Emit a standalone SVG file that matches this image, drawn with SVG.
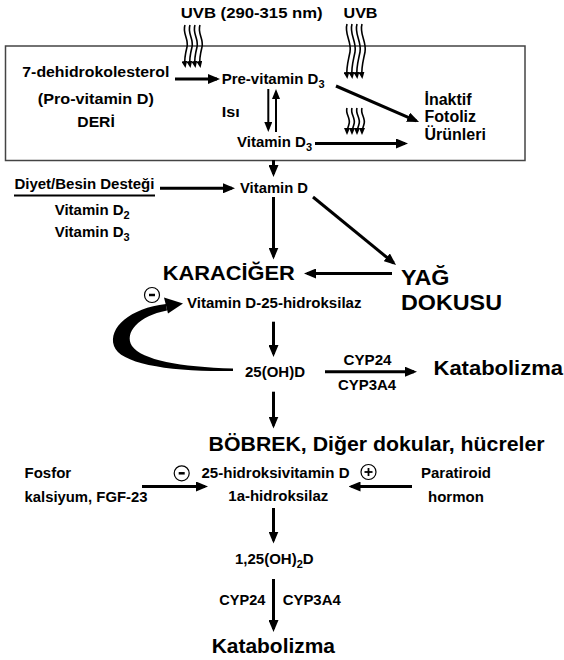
<svg xmlns="http://www.w3.org/2000/svg" xmlns:xlink="http://www.w3.org/1999/xlink" width="564" height="660" viewBox="0 0 564 660">
<style>
text{font-family:"Liberation Sans",Arial,Helvetica,sans-serif;font-weight:bold;fill:#000}
.s{font-size:15px}
.m{font-size:16px}
.l{font-size:21px}
.xl{font-size:22px}
.sub{font-size:11px}
.ar{stroke:#000;stroke-width:3;fill:none;marker-end:url(#ah)}
.eq{stroke:#000;stroke-width:2;fill:none;marker-end:url(#ahs)}
.wv{stroke:#000;stroke-width:1.6;fill:none;marker-end:url(#ahw)}
.circ{fill:#fff;stroke:#000;stroke-width:1.2}
</style>
<defs>
<marker id="ah" markerUnits="userSpaceOnUse" markerWidth="12" markerHeight="10" refX="9" refY="5" orient="auto"><path d="M0,0 L12,5 L0,10 z" fill="#000"/></marker>
<marker id="ahs" markerUnits="userSpaceOnUse" markerWidth="10" markerHeight="8" refX="7" refY="4" orient="auto"><path d="M0,0 L10,4 L0,8 z" fill="#000"/></marker>
<marker id="ahw" markerUnits="userSpaceOnUse" markerWidth="7" markerHeight="6" refX="4" refY="3" orient="auto"><path d="M0,0 L7,3 L0,6 z" fill="#000"/></marker>
<path id="w1" d="M0,0 C-3,8 4,14 2,22 C0,30 -1,34 0,40" class="wv"/>
<path id="w2" d="M0,0 C-3,10 5,18 3,28 C1,38 -1,44 0,52" class="wv"/>
<path id="w3" d="M0,0 C-2,6 4,10 2,16 C1,20 0,22 0,24" class="wv"/>
</defs>

<g id="skin-box">
<rect x="5.5" y="46" width="519.5" height="114.5" fill="#fff" stroke="#444" stroke-width="1.5"/>
</g>

<g id="uvb1">
<text class="s" x="180.7" y="17.5" textLength="142" lengthAdjust="spacingAndGlyphs">UVB (290-315 nm)</text>
<use xlink:href="#w1" x="185" y="25"/><use xlink:href="#w1" x="190" y="25"/><use xlink:href="#w1" x="195" y="25"/><use xlink:href="#w1" x="200" y="25"/>
</g>
<g id="uvb2">
<text class="s" x="343.5" y="17.5" textLength="34" lengthAdjust="spacingAndGlyphs">UVB</text>
<use xlink:href="#w2" x="347" y="24"/><use xlink:href="#w2" x="352" y="24"/><use xlink:href="#w2" x="357" y="24"/><use xlink:href="#w2" x="362" y="24"/>
</g>
<g id="uvb3">
<use xlink:href="#w3" x="347" y="108"/><use xlink:href="#w3" x="352" y="108"/><use xlink:href="#w3" x="357" y="108"/><use xlink:href="#w3" x="362" y="108"/>
</g>

<g id="dehydro">
<text class="s" x="22.3" y="77" textLength="147" lengthAdjust="spacingAndGlyphs">7-dehidrokolesterol</text>
<text class="s" x="37.8" y="103.5" textLength="116" lengthAdjust="spacingAndGlyphs">(Pro-vitamin D)</text>
<text class="s" x="77.3" y="127" textLength="37.5" lengthAdjust="spacingAndGlyphs">DERİ</text>
</g>
<g id="previtd3"><text class="s" x="221.7" y="84">Pre-vitamin D<tspan class="sub" dy="4">3</tspan></text></g>
<g id="heat"><text class="s" x="221.7" y="117" textLength="18" lengthAdjust="spacingAndGlyphs">Isı</text></g>
<g id="vitd3-skin"><text class="s" x="237" y="147">Vitamin D<tspan class="sub" dy="4">3</tspan></text></g>
<g id="inactive">
<text class="m" x="424.5" y="105">İnaktif</text>
<text class="m" x="424.5" y="121.5">Fotoliz</text>
<text class="m" x="424.5" y="139.5">Ürünleri</text>
</g>

<g id="diet">
<text class="s" x="14.4" y="188.5" textLength="140" lengthAdjust="spacingAndGlyphs">Diyet/Besin Desteği</text>
<line x1="14" y1="195.5" x2="155" y2="195.5" stroke="#000" stroke-width="2"/>
<text class="s" x="54.7" y="215">Vitamin D<tspan class="sub" dy="4">2</tspan></text>
<text class="s" x="54.7" y="237">Vitamin D<tspan class="sub" dy="4">3</tspan></text>
</g>
<g id="vitd"><text class="s" x="240" y="192.7" textLength="68" lengthAdjust="spacingAndGlyphs">Vitamin D</text></g>
<g id="liver"><text class="l" x="162.7" y="279.5" textLength="132" lengthAdjust="spacingAndGlyphs">KARACİĞER</text></g>
<g id="fat">
<text class="xl" x="401" y="285" textLength="48.5" lengthAdjust="spacingAndGlyphs">YAĞ</text>
<text class="xl" x="401" y="310" textLength="101" lengthAdjust="spacingAndGlyphs">DOKUSU</text>
</g>
<g id="hydroxylase25">
<text class="s" x="187" y="308.3" textLength="174.5" lengthAdjust="spacingAndGlyphs">Vitamin D-25-hidroksilaz</text>
<circle class="circ" cx="152" cy="295" r="7.5"/><line x1="149" y1="295" x2="155" y2="295" stroke="#000" stroke-width="2.5"/>
</g>
<g id="ohd25"><text class="s" x="245" y="377.3" textLength="60" lengthAdjust="spacingAndGlyphs">25(OH)D</text></g>
<g id="catab1"><text class="l" x="433.5" y="375" textLength="129.5" lengthAdjust="spacingAndGlyphs">Katabolizma</text></g>
<g id="kidney"><text class="l" x="208.6" y="450.5" textLength="336" lengthAdjust="spacingAndGlyphs">BÖBREK, Diğer dokular, hücreler</text></g>
<g id="phosphor">
<text class="s" x="24.5" y="478">Fosfor</text>
<text class="s" x="24.5" y="501.5" textLength="123" lengthAdjust="spacingAndGlyphs">kalsiyum, FGF-23</text>
</g>
<g id="alpha-hydroxylase">
<circle class="circ" cx="181.7" cy="473.3" r="7.5"/><line x1="178.7" y1="473.3" x2="184.7" y2="473.3" stroke="#000" stroke-width="2.5"/>
<text class="s" x="201.5" y="477.5" textLength="148" lengthAdjust="spacingAndGlyphs">25-hidroksivitamin D</text>
<circle class="circ" cx="368.5" cy="472" r="7.5"/><line x1="364.5" y1="472" x2="372.5" y2="472" stroke="#000" stroke-width="1.8"/><line x1="368.5" y1="468" x2="368.5" y2="476" stroke="#000" stroke-width="1.8"/>
<text class="s" x="228.3" y="500.7" textLength="100" lengthAdjust="spacingAndGlyphs">1a-hidroksilaz</text>
</g>
<g id="pth">
<text class="s" x="421" y="478">Paratiroid</text>
<text class="s" x="428" y="501.5">hormon</text>
</g>
<g id="ohd125"><text class="s" x="235" y="563.5">1,25(OH)<tspan class="sub" dy="4">2</tspan><tspan dy="-4">D</tspan></text></g>
<g id="catab2"><text class="l" x="211.7" y="653.3" textLength="123.3" lengthAdjust="spacingAndGlyphs">Katabolizma</text></g>

<g id="connectors">
<line class="ar" x1="175" y1="79" x2="217" y2="79"/>
<line class="eq" x1="268.3" y1="89" x2="268.3" y2="129"/>
<line class="eq" x1="276" y1="132" x2="276" y2="92"/>
<line class="ar" x1="336" y1="86" x2="416.3" y2="120.8"/>
<line class="ar" x1="315" y1="143.5" x2="405" y2="143.5"/>
<line class="ar" x1="273.5" y1="160" x2="273.5" y2="174"/>
<line class="ar" x1="160" y1="188.3" x2="232" y2="188.3"/>
<line class="ar" x1="273.5" y1="197" x2="273.5" y2="256.5"/>
<line class="ar" x1="313" y1="197" x2="393.7" y2="263"/>
<line class="ar" x1="392" y1="273.5" x2="307" y2="273.5"/>
<line class="ar" x1="273.5" y1="321.7" x2="273.5" y2="354"/>
<line class="ar" x1="325" y1="371.7" x2="414" y2="371.7"/>
<text class="s" x="343.5" y="365" textLength="48" lengthAdjust="spacingAndGlyphs">CYP24</text>
<text class="s" x="338" y="390" textLength="58" lengthAdjust="spacingAndGlyphs">CYP3A4</text>
<line class="ar" x1="273.5" y1="391.7" x2="273.5" y2="425.5"/>
<line class="ar" x1="142" y1="486.5" x2="205" y2="486.5"/>
<line class="ar" x1="412" y1="486.5" x2="351.5" y2="486.5"/>
<line class="ar" x1="273.5" y1="508" x2="273.5" y2="540.5"/>
<line class="ar" x1="273.5" y1="579" x2="273.5" y2="629"/>
<text class="s" x="219.3" y="605" textLength="46" lengthAdjust="spacingAndGlyphs">CYP24</text>
<text class="s" x="282.7" y="605" textLength="58" lengthAdjust="spacingAndGlyphs">CYP3A4</text>
<path d="M166,304 C130,308 108,328 114,346 C120,364 170,372 233,371 L233,368.5 C180,367 142,360 132,346 C124,333 138,316 167,310.5 Z" fill="#000"/>
<polygon points="183,303.5 164,297.5 168,313.5" fill="#000"/>
</g>
</svg>
